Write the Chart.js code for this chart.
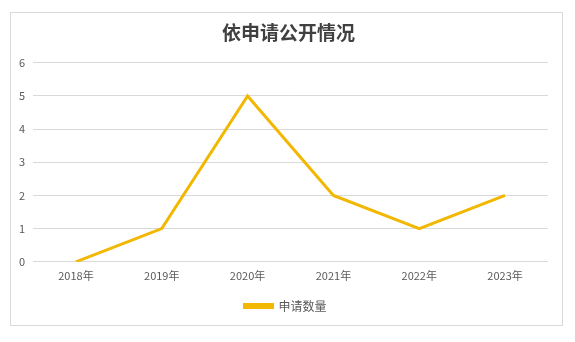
<!DOCTYPE html>
<html>
<head>
<meta charset="utf-8">
<script src="https://cdn.jsdelivr.net/npm/chart.js@4"></script>
<style>
  body { margin: 0; background: #fff; }
  #box { position: absolute; left: 10px; top: 12px; width: 551px; height: 312px; border: 1px solid #d9d9d9; }
  #myChart { position: absolute; left: 0; top: 0; }
</style>
</head>
<body>
<div id="box"><canvas id="myChart" width="555" height="312"></canvas></div>
<script>
// chart data
const years = ["2018年", "2019年", "2020年", "2021年", "2022年", "2023年"];
const requests = [0, 1, 5, 2, 1, 2];
const yTicks = [0, 1, 2, 3, 4, 5, 6];

const lineColor = "#F2B700";
const fontFamily = "'Noto Sans CJK SC', 'Noto Sans', sans-serif";

// nudge title and legend a bit right, like the original centering
const shiftBoxes = {
  id: "shiftBoxes",
  afterLayout(chart) {
    if (chart.titleBlock) { chart.titleBlock.left += 9; chart.titleBlock.right += 9; }
    if (chart.legend) { chart.legend.left += 6; chart.legend.right += 6; }
  }
};

new Chart("myChart", {
  type: "line",
  data: {
    labels: years,
    datasets: [{
      label: "申请数量",
      data: requests,
      borderColor: lineColor,
      backgroundColor: lineColor,
      borderWidth: 3,
      pointRadius: 0,
      tension: 0
    }]
  },
  options: {
    responsive: false,
    animation: false,
    layout: { padding: { left: 0, right: 18, top: 3, bottom: 3 } },
    plugins: {
      title: {
        display: true,
        text: "依申请公开情况",
        color: "#404040",
        font: { family: fontFamily, size: 19, weight: "bold" },
        padding: { top: 5, bottom: 19 }
      },
      legend: {
        position: "bottom",
        labels: {
          color: "#595959",
          font: { family: fontFamily, size: 12 },
          boxWidth: 28,
          boxHeight: 3,
          padding: 11
        }
      },
      tooltip: { enabled: false }
    },
    scales: {
      x: {
        offset: true,
        grid: { display: false, drawTicks: false },
        border: { display: false },
        ticks: { color: "#595959", font: { family: fontFamily, size: 11 }, padding: 7, maxRotation: 0 }
      },
      y: {
        min: 0,
        max: 6,
        afterBuildTicks: axis => { axis.ticks = yTicks.map(v => ({ value: v })); },
        grid: { color: "#d9d9d9", drawTicks: false },
        border: { display: false },
        ticks: { color: "#595959", font: { family: fontFamily, size: 11 }, padding: 8 },
        afterFit: axis => { axis.width = 22; }
      }
    }
  },
  plugins: [shiftBoxes]
});
</script>
</body>
</html>
